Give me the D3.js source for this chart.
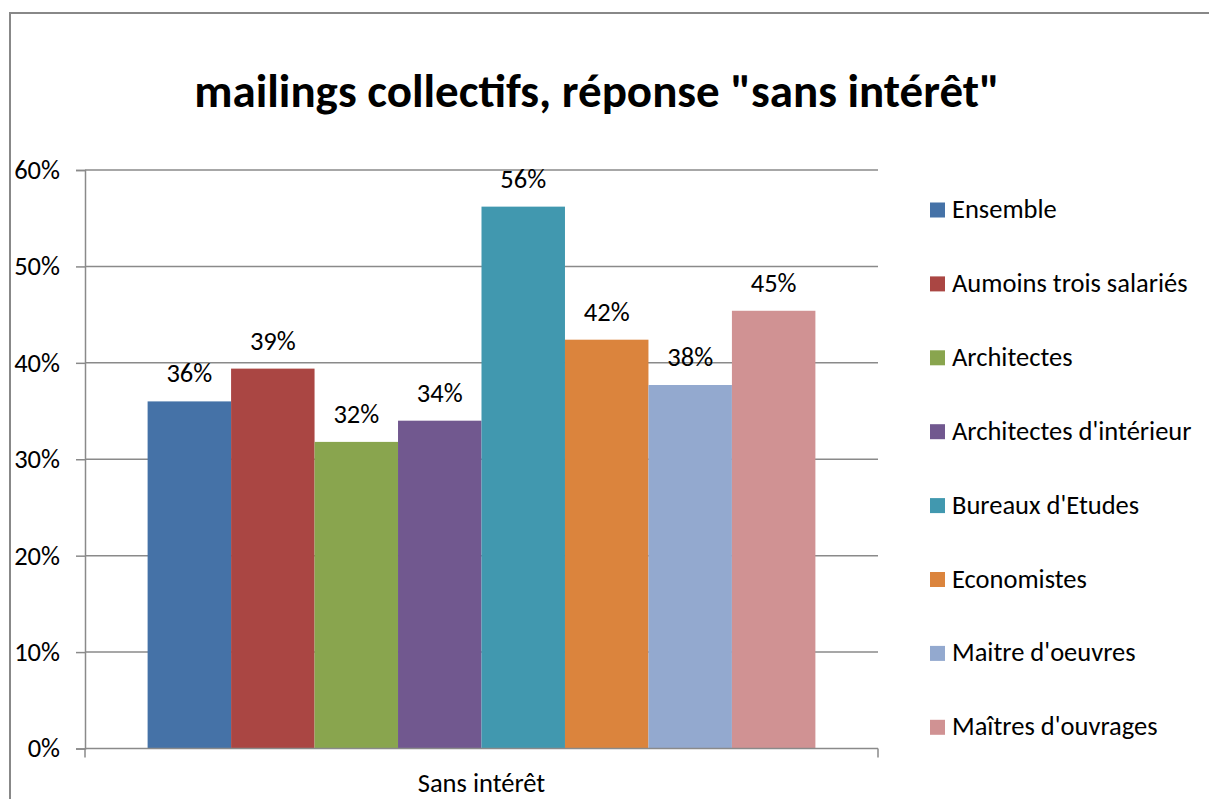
<!DOCTYPE html>
<html>
<head>
<meta charset="utf-8">
<script src="https://cdn.jsdelivr.net/npm/d3@7"></script>
<style>
  body { margin: 0; background: #fff; }
  svg { display: block; font-family: Carlito, Calibri, "Open Sans", sans-serif; }
</style>
</head>
<body>
<div id="chart"></div>
<script>
// data
var categories = ["Sans intérêt"];
var series = ["Ensemble", "Aumoins trois salariés", "Architectes", "Architectes d'intérieur",
              "Bureaux d'Etudes", "Economistes", "Maitre d'oeuvres", "Maîtres d'ouvrages"];
var values = [0.360, 0.394, 0.318, 0.340, 0.562, 0.424, 0.377, 0.454];
var colors = ["#4572a7", "#aa4643", "#89a54e", "#71588f", "#4198af", "#db843d", "#93a9cf", "#d09293"];
var yTicks = [0, 0.1, 0.2, 0.3, 0.4, 0.5, 0.6];
var title = 'mailings collectifs, réponse "sans intérêt"';

var W = 1209, H = 799;
var FONT = 'Carlito, Calibri, "Open Sans", sans-serif';
var FS = 26.5;
var plot = {left: 85, right: 878, top: 170, bottom: 748.5};

var svg = d3.select("#chart").append("svg")
    .attr("width", W)
    .attr("height", H);

// outer chart frame (only left & top edges fall inside the picture)
svg.append("rect")
    .attr("x", 10).attr("y", 13)
    .attr("width", 1230).attr("height", 830)
    .attr("fill", "none")
    .attr("stroke", "#888")
    .attr("stroke-width", 2);

svg.append("text")
    .attr("x", 597).attr("y", 107)
    .attr("text-anchor", "middle")
    .attr("font-size", 47)
    .attr("font-weight", "bold")
    .text(title);

var y = d3.scaleLinear().domain([0, 0.6]).range([plot.bottom, plot.top]);
var x0 = d3.scaleBand().domain(categories).range([plot.left, plot.right]);
var gap = x0.bandwidth() * 0.75 / (series.length + 1.5);
var x1 = d3.scaleBand().domain(series).range([gap, x0.bandwidth() - gap]);

// gridlines
svg.append("g").selectAll("line")
    .data(yTicks.filter(function(d){ return d > 0; }))
    .enter().append("line")
    .attr("x1", plot.left).attr("x2", plot.right)
    .attr("y1", function(d){ return y(d); })
    .attr("y2", function(d){ return y(d); })
    .attr("stroke", "#8a8a8a")
    .attr("stroke-width", 1.5);

// y axis
var yAxis = svg.append("g")
    .attr("transform", "translate(" + plot.left + ",0)")
    .call(d3.axisLeft(y).tickValues(yTicks).tickFormat(d3.format(".0%")).tickSize(9).tickPadding(16));
yAxis.select(".domain").attr("stroke", "#8a8a8a").attr("stroke-width", 1.5);
yAxis.selectAll(".tick line").attr("stroke", "#8a8a8a").attr("stroke-width", 1.5);
yAxis.selectAll("text").attr("font-size", FS).attr("fill", "#000").attr("font-family", FONT);

// bars
var group = svg.append("g").selectAll("g")
    .data(categories)
    .enter().append("g")
    .attr("transform", function(d){ return "translate(" + x0(d) + ",0)"; });

group.selectAll("rect")
    .data(series.map(function(s, i){ return {name: s, value: values[i], color: colors[i]}; }))
    .enter().append("rect")
    .attr("x", function(d){ return x1(d.name); })
    .attr("y", function(d){ return y(d.value); })
    .attr("width", x1.bandwidth())
    .attr("height", function(d){ return y(0) - y(d.value); })
    .attr("fill", function(d){ return d.color; });

group.selectAll("text")
    .data(series.map(function(s, i){ return {name: s, value: values[i]}; }))
    .enter().append("text")
    .attr("x", function(d){ return x1(d.name) + x1.bandwidth() / 2; })
    .attr("y", function(d){ return y(d.value) - 19; })
    .attr("text-anchor", "middle")
    .attr("font-size", FS)
    .text(function(d){ return d3.format(".0%")(d.value); });

// x axis
var xAxis = svg.append("g")
    .attr("transform", "translate(0," + plot.bottom + ")")
    .call(d3.axisBottom(x0).tickSize(0).tickPadding(25));
xAxis.select(".domain").remove();
xAxis.selectAll("text").attr("font-size", FS).attr("fill", "#000").attr("font-family", FONT);
svg.append("line")
    .attr("x1", plot.left).attr("x2", plot.right)
    .attr("y1", plot.bottom).attr("y2", plot.bottom)
    .attr("stroke", "#8a8a8a").attr("stroke-width", 1.5);
svg.append("g").selectAll("line")
    .data(x0.range())
    .enter().append("line")
    .attr("x1", function(d){ return d; }).attr("x2", function(d){ return d; })
    .attr("y1", plot.bottom).attr("y2", plot.bottom + 9)
    .attr("stroke", "#8a8a8a").attr("stroke-width", 1.5);

// legend
var legend = svg.append("g").selectAll("g")
    .data(series)
    .enter().append("g")
    .attr("transform", function(d, i){ return "translate(930," + (210 + i * 73.9) + ")"; });
legend.append("rect")
    .attr("x", 0).attr("y", -7.5)
    .attr("width", 15).attr("height", 15)
    .attr("fill", function(d, i){ return colors[i]; });
legend.append("text")
    .attr("x", 22).attr("y", 8)
    .attr("font-size", FS)
    .text(function(d){ return d; });
</script>
</body>
</html>
